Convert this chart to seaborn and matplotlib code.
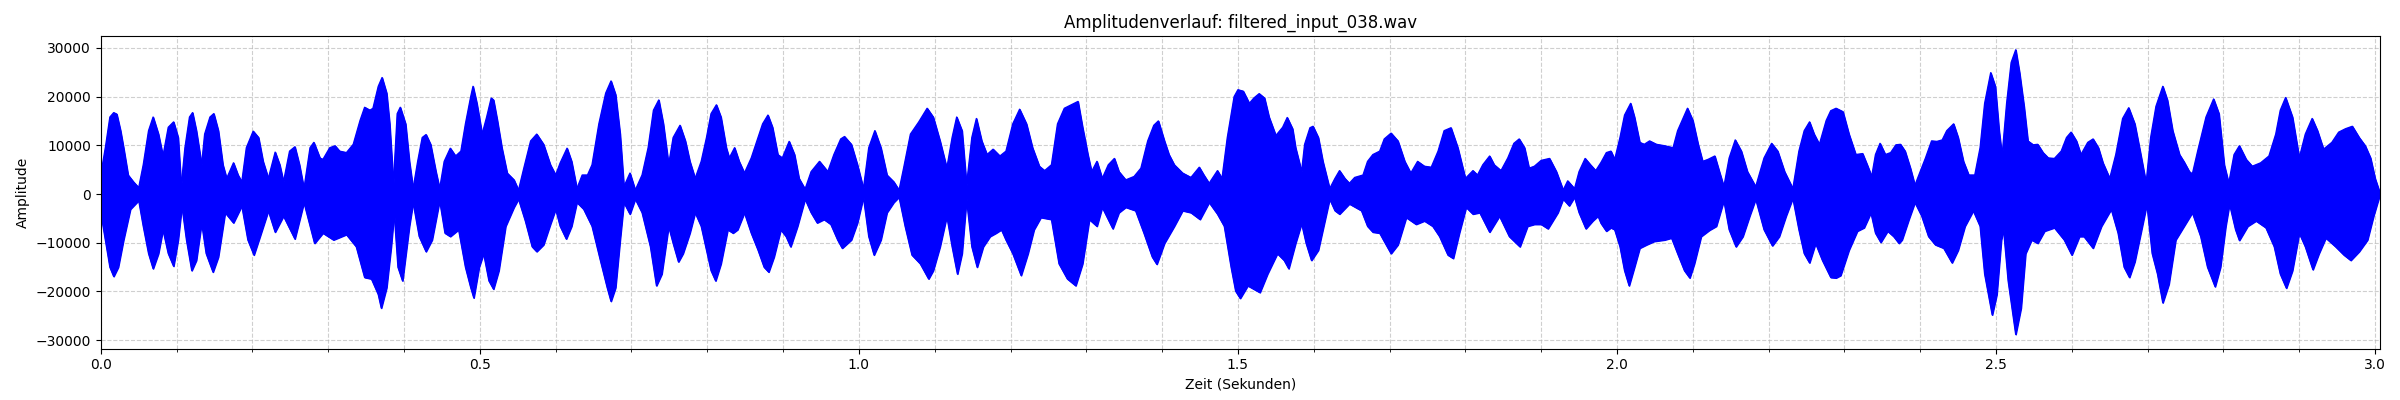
import numpy as np
import pandas as pd
import seaborn as sns
import matplotlib
matplotlib.use("Agg")
import matplotlib.pyplot as plt
from matplotlib.ticker import MultipleLocator

# Obere Huellkurve (Zeit in s, Amplitude)
zeit_oben = [
    0.000, 0.006, 0.012, 0.017, 0.021, 0.026, 0.030, 0.036, 0.043, 0.050,
    0.056, 0.063, 0.069, 0.076, 0.082, 0.089, 0.096, 0.102, 0.106, 0.111,
    0.117, 0.121, 0.126, 0.133, 0.137, 0.144, 0.149, 0.155, 0.161, 0.166,
    0.175, 0.181, 0.186, 0.192, 0.201, 0.208, 0.214, 0.221, 0.230, 0.236,
    0.241, 0.249, 0.256, 0.262, 0.268, 0.276, 0.281, 0.289, 0.293, 0.302,
    0.309, 0.315, 0.324, 0.333, 0.342, 0.348, 0.355, 0.359, 0.366, 0.371,
    0.377, 0.381, 0.386, 0.391, 0.395, 0.402, 0.407, 0.412, 0.418, 0.424,
    0.429, 0.435, 0.442, 0.447, 0.453, 0.461, 0.468, 0.475, 0.481, 0.488,
    0.491, 0.496, 0.503, 0.509, 0.515, 0.518, 0.523, 0.529, 0.536, 0.545,
    0.551, 0.558, 0.567, 0.575, 0.584, 0.593, 0.600, 0.606, 0.615, 0.621,
    0.628, 0.635, 0.642, 0.648, 0.657, 0.666, 0.673, 0.679, 0.685, 0.690,
    0.698, 0.705, 0.714, 0.722, 0.729, 0.736, 0.742, 0.749, 0.755, 0.764,
    0.771, 0.777, 0.784, 0.792, 0.799, 0.805, 0.812, 0.818, 0.825, 0.829,
    0.836, 0.842, 0.849, 0.858, 0.867, 0.873, 0.880, 0.886, 0.893, 0.899,
    0.908, 0.915, 0.921, 0.929, 0.937, 0.948, 0.959, 0.967, 0.976, 0.981,
    0.990, 0.998, 1.006, 1.013, 1.021, 1.029, 1.037, 1.046, 1.053, 1.059,
    1.068, 1.079, 1.090, 1.098, 1.107, 1.116, 1.123, 1.129, 1.136, 1.142,
    1.149, 1.155, 1.162, 1.169, 1.177, 1.186, 1.194, 1.203, 1.212, 1.221,
    1.229, 1.238, 1.245, 1.254, 1.262, 1.271, 1.280, 1.289, 1.295, 1.302,
    1.307, 1.314, 1.321, 1.329, 1.337, 1.343, 1.352, 1.363, 1.372, 1.381,
    1.389, 1.395, 1.403, 1.409, 1.416, 1.427, 1.438, 1.449, 1.455, 1.462,
    1.473, 1.479, 1.486, 1.495, 1.500, 1.507, 1.515, 1.521, 1.528, 1.535,
    1.541, 1.550, 1.559, 1.565, 1.572, 1.576, 1.584, 1.588, 1.595, 1.599,
    1.606, 1.612, 1.621, 1.628, 1.634, 1.641, 1.647, 1.654, 1.665, 1.671,
    1.678, 1.687, 1.693, 1.702, 1.711, 1.720, 1.728, 1.737, 1.746, 1.755,
    1.764, 1.772, 1.781, 1.790, 1.800, 1.810, 1.816, 1.823, 1.832, 1.838,
    1.847, 1.856, 1.864, 1.871, 1.878, 1.884, 1.891, 1.900, 1.911, 1.920,
    1.929, 1.935, 1.944, 1.950, 1.958, 1.965, 1.972, 1.979, 1.986, 1.992,
    1.997, 2.004, 2.010, 2.018, 2.023, 2.030, 2.036, 2.043, 2.052, 2.063,
    2.074, 2.080, 2.089, 2.093, 2.100, 2.107, 2.113, 2.120, 2.129, 2.135,
    2.141, 2.148, 2.156, 2.164, 2.172, 2.183, 2.194, 2.204, 2.212, 2.221,
    2.232, 2.240, 2.247, 2.254, 2.260, 2.267, 2.276, 2.282, 2.289, 2.298,
    2.306, 2.315, 2.324, 2.330, 2.336, 2.341, 2.347, 2.354, 2.361, 2.368,
    2.374, 2.380, 2.387, 2.393, 2.400, 2.407, 2.415, 2.422, 2.429, 2.435,
    2.444, 2.450, 2.457, 2.464, 2.472, 2.479, 2.485, 2.493, 2.499, 2.504,
    2.508, 2.514, 2.520, 2.526, 2.531, 2.537, 2.542, 2.549, 2.555, 2.562,
    2.569, 2.577, 2.586, 2.593, 2.599, 2.606, 2.612, 2.621, 2.628, 2.635,
    2.641, 2.650, 2.658, 2.667, 2.675, 2.683, 2.690, 2.698, 2.704, 2.711,
    2.720, 2.726, 2.733, 2.742, 2.748, 2.755, 2.759, 2.766, 2.777, 2.787,
    2.794, 2.801, 2.807, 2.814, 2.821, 2.830, 2.838, 2.849, 2.860, 2.869,
    2.875, 2.882, 2.891, 2.900, 2.908, 2.917, 2.924, 2.932, 2.943, 2.952,
    2.961, 2.970, 2.979, 2.987, 2.994, 3.000, 3.006,
]
amp_oben = [
    4000, 9500, 15800, 16700, 16400, 13000, 9500, 3900, 2500, 1300,
    6000, 13000, 15800, 12300, 7800, 13700, 14800, 11600, 1500, 9500,
    15800, 16700, 13000, 6000, 12300, 15800, 16500, 13000, 6000, 3200,
    6400, 3900, 2500, 9500, 12900, 11600, 6700, 3200, 8600, 6000,
    2500, 8800, 9700, 6000, 1100, 9500, 10600, 7400, 7100, 9500,
    9900, 8800, 8500, 10200, 15100, 17800, 17200, 17600, 22100, 23900,
    20700, 14400, 2000, 16500, 17800, 14400, 6700, 1100, 6700, 11600,
    12200, 10200, 4600, 1100, 6700, 9400, 7800, 8800, 14400, 20000,
    22100, 18600, 12300, 15800, 19700, 19300, 15100, 9500, 4300, 2900,
    800, 5300, 10900, 12300, 10200, 6000, 3900, 6400, 9400, 6700,
    1100, 3900, 3900, 6000, 14400, 20700, 23200, 20400, 12300, 1500,
    4300, 800, 3900, 9500, 17200, 19300, 14400, 6000, 11600, 14100,
    10900, 6700, 3200, 6700, 11600, 16500, 18300, 15800, 9500, 7400,
    9500, 6700, 4300, 7400, 11600, 14400, 16200, 13700, 8100, 7400,
    10800, 8100, 3200, 1000, 4600, 6700, 4600, 8100, 11300, 11800,
    10200, 6000, 1100, 9500, 13000, 9500, 3900, 2500, 800, 5300,
    12300, 14800, 17600, 15800, 10900, 5300, 11600, 15800, 13000, 1800,
    11600, 15500, 10900, 8100, 9200, 7800, 8800, 14400, 17400, 14400,
    9500, 5700, 4800, 6000, 14400, 17600, 18300, 19000, 13700, 8100,
    4600, 6700, 3200, 6000, 7300, 4600, 2900, 3600, 5300, 10900,
    14100, 15000, 10900, 8100, 6000, 4300, 3400, 5500, 3900, 2200,
    4800, 3200, 11600, 20000, 21400, 21100, 18600, 19700, 20600, 19700,
    15800, 12000, 13700, 15700, 13400, 9500, 4600, 10200, 13600, 13900,
    11600, 6700, 1100, 3200, 4800, 3200, 2200, 3400, 3900, 6700,
    8100, 8800, 11300, 12500, 10900, 6700, 4300, 6700, 5700, 5500,
    8800, 13000, 13600, 9500, 3200, 4800, 3900, 6000, 7800, 6000,
    4800, 7400, 10400, 11300, 9500, 5300, 5700, 6900, 7300, 4600,
    800, 2700, 1100, 4600, 7300, 6000, 4800, 6500, 8500, 8800,
    7100, 11600, 16200, 18600, 15800, 10600, 10200, 10900, 10200, 9900,
    9500, 13000, 16200, 17600, 15100, 10200, 6700, 7100, 7800, 4600,
    1500, 7400, 11100, 8800, 4600, 1500, 7400, 10400, 8800, 4600,
    1100, 8800, 13000, 14800, 12300, 10200, 15100, 17100, 17600, 16900,
    12300, 8100, 8300, 6000, 3600, 8100, 10400, 8100, 8500, 10100,
    10200, 8800, 5300, 1800, 4600, 7400, 10900, 10800, 11100, 13000,
    14400, 11600, 6700, 3900, 3900, 9500, 18600, 24900, 22100, 13000,
    7800, 18600, 27000, 29600, 24900, 17900, 10900, 10100, 10200, 8500,
    7400, 7300, 8800, 11600, 12700, 10900, 8100, 10600, 11300, 9500,
    6400, 3200, 8100, 15500, 17700, 14400, 8800, 2200, 11600, 18000,
    22100, 19300, 13000, 8100, 6600, 4600, 4100, 8800, 15800, 19500,
    16500, 6000, 2200, 8100, 9900, 7100, 5700, 6400, 7800, 12300,
    17200, 19800, 15800, 7400, 12300, 15500, 13000, 9200, 10600, 12700,
    13400, 13900, 11600, 9900, 7400, 3200, 400,
]

# Untere Huellkurve
zeit_unten = [
    0.000, 0.006, 0.012, 0.017, 0.023, 0.030, 0.039, 0.050, 0.056, 0.063,
    0.069, 0.076, 0.082, 0.089, 0.096, 0.102, 0.107, 0.113, 0.120, 0.126,
    0.133, 0.139, 0.148, 0.155, 0.164, 0.175, 0.186, 0.194, 0.202, 0.210,
    0.221, 0.230, 0.241, 0.256, 0.268, 0.282, 0.293, 0.307, 0.324, 0.337,
    0.348, 0.357, 0.366, 0.370, 0.377, 0.383, 0.387, 0.392, 0.398, 0.407,
    0.412, 0.420, 0.429, 0.437, 0.447, 0.454, 0.461, 0.472, 0.481, 0.488,
    0.492, 0.499, 0.505, 0.512, 0.518, 0.525, 0.534, 0.545, 0.551, 0.560,
    0.569, 0.575, 0.584, 0.593, 0.600, 0.606, 0.614, 0.621, 0.628, 0.637,
    0.648, 0.659, 0.668, 0.673, 0.679, 0.685, 0.690, 0.698, 0.705, 0.714,
    0.725, 0.733, 0.740, 0.749, 0.755, 0.762, 0.768, 0.777, 0.784, 0.792,
    0.799, 0.805, 0.811, 0.818, 0.827, 0.834, 0.840, 0.849, 0.858, 0.867,
    0.875, 0.881, 0.888, 0.897, 0.904, 0.910, 0.919, 0.929, 0.937, 0.945,
    0.954, 0.963, 0.972, 0.978, 0.990, 0.998, 1.006, 1.013, 1.020, 1.029,
    1.037, 1.046, 1.053, 1.061, 1.070, 1.081, 1.092, 1.098, 1.107, 1.116,
    1.123, 1.130, 1.136, 1.142, 1.149, 1.156, 1.164, 1.173, 1.181, 1.188,
    1.194, 1.203, 1.214, 1.223, 1.231, 1.240, 1.254, 1.264, 1.275, 1.286,
    1.295, 1.304, 1.314, 1.321, 1.335, 1.343, 1.352, 1.365, 1.376, 1.387,
    1.393, 1.403, 1.416, 1.427, 1.438, 1.450, 1.462, 1.473, 1.482, 1.491,
    1.497, 1.503, 1.513, 1.521, 1.529, 1.539, 1.552, 1.561, 1.567, 1.576,
    1.584, 1.590, 1.597, 1.606, 1.615, 1.621, 1.628, 1.634, 1.647, 1.663,
    1.671, 1.678, 1.687, 1.693, 1.702, 1.711, 1.722, 1.735, 1.746, 1.757,
    1.766, 1.777, 1.784, 1.792, 1.801, 1.810, 1.819, 1.832, 1.845, 1.858,
    1.872, 1.882, 1.891, 1.900, 1.909, 1.922, 1.929, 1.937, 1.944, 1.950,
    1.959, 1.968, 1.975, 1.979, 1.986, 1.992, 1.997, 2.004, 2.010, 2.016,
    2.023, 2.030, 2.039, 2.049, 2.063, 2.072, 2.080, 2.089, 2.096, 2.102,
    2.111, 2.122, 2.131, 2.141, 2.148, 2.157, 2.166, 2.175, 2.183, 2.194,
    2.205, 2.214, 2.223, 2.232, 2.240, 2.247, 2.254, 2.262, 2.271, 2.282,
    2.289, 2.295, 2.306, 2.317, 2.326, 2.335, 2.341, 2.348, 2.357, 2.365,
    2.372, 2.376, 2.385, 2.393, 2.402, 2.411, 2.420, 2.431, 2.442, 2.450,
    2.459, 2.470, 2.479, 2.485, 2.495, 2.501, 2.507, 2.510, 2.516, 2.526,
    2.533, 2.539, 2.547, 2.555, 2.564, 2.577, 2.590, 2.600, 2.610, 2.616,
    2.628, 2.639, 2.652, 2.661, 2.669, 2.676, 2.683, 2.691, 2.699, 2.706,
    2.713, 2.720, 2.728, 2.737, 2.748, 2.759, 2.770, 2.779, 2.789, 2.796,
    2.803, 2.808, 2.816, 2.821, 2.832, 2.843, 2.856, 2.867, 2.875, 2.883,
    2.891, 2.900, 2.908, 2.918, 2.926, 2.935, 2.948, 2.959, 2.968, 2.979,
    2.990, 2.998, 3.006,
]
amp_unten = [
    -3800, -9400, -15000, -16900, -15000, -9400, -3100, -1300, -6600, -12200,
    -15300, -12200, -7300, -12200, -14800, -9400, -2400, -9400, -15700, -13600,
    -5900, -12200, -16000, -12900, -3800, -5900, -2400, -9400, -12500, -8700,
    -3400, -7800, -4500, -9200, -1700, -10100, -8000, -9400, -8300, -10800,
    -17100, -17400, -20600, -23400, -19200, -10800, -3800, -15000, -17800, -6600,
    -1700, -8700, -11800, -9400, -1300, -8000, -8700, -7300, -15000, -19200,
    -21300, -15000, -12200, -17800, -19500, -15700, -6600, -2700, -1000, -5500,
    -10800, -11800, -10400, -6200, -3100, -6600, -9200, -6600, -1700, -3100,
    -6600, -13600, -19200, -22000, -19200, -9400, -1700, -4100, -1000, -3800,
    -10800, -18800, -16400, -6600, -10100, -13900, -12200, -8000, -3800, -6600,
    -11500, -15700, -17800, -14300, -7300, -8000, -7300, -3800, -8000, -11500,
    -15000, -16000, -12900, -7300, -8700, -10800, -6600, -1000, -3800, -5900,
    -5200, -6200, -9400, -11100, -9400, -5900, -600, -8700, -12500, -9400,
    -3800, -1700, -600, -6600, -12500, -14300, -17400, -15700, -10800, -4500,
    -10800, -16400, -12200, -1000, -10800, -15000, -10800, -8700, -8000, -7300,
    -9400, -12200, -16700, -12200, -7300, -4800, -5200, -14300, -17400, -18800,
    -14300, -5200, -6600, -2700, -7100, -3800, -2700, -3400, -8000, -12900,
    -14400, -10100, -6600, -3400, -3800, -5200, -1700, -4100, -6600, -15000,
    -19900, -21400, -18800, -19500, -20200, -16400, -12200, -13600, -15300, -10100,
    -6000, -10100, -13600, -11500, -5200, -1000, -3400, -4100, -2000, -3400,
    -6600, -7800, -8000, -9700, -12200, -10400, -4800, -6200, -5500, -6600,
    -8700, -12500, -13200, -8000, -2700, -4100, -3800, -7800, -4500, -8700,
    -10800, -6600, -6200, -6200, -7100, -3800, -1000, -2400, -600, -3800,
    -7100, -5500, -4500, -6000, -7600, -6900, -7300, -10800, -15700, -18800,
    -15000, -11100, -10400, -9700, -9400, -9000, -12200, -15700, -17200, -14300,
    -8700, -7400, -6600, -1300, -7300, -10800, -8700, -4500, -1000, -7300,
    -10600, -8700, -4500, -800, -7300, -12200, -14100, -10100, -13600, -17100,
    -17200, -16700, -11500, -7600, -6900, -3800, -8000, -9900, -7600, -8700,
    -10100, -9400, -5200, -1700, -4500, -8700, -10400, -11100, -14100, -11500,
    -6600, -3400, -6600, -16400, -24800, -20600, -9400, -7300, -17800, -28800,
    -23400, -12200, -9400, -10100, -7600, -6900, -9400, -12500, -8700, -8700,
    -11100, -6600, -3100, -8000, -15000, -17100, -13900, -8000, -2000, -12200,
    -16400, -22300, -18500, -9400, -6600, -3800, -8700, -15000, -19000, -15000,
    -6600, -2000, -7300, -9500, -6600, -5500, -6900, -10800, -16400, -19300,
    -15700, -8000, -10800, -15500, -12200, -9000, -10800, -12500, -13600, -11800,
    -9400, -4500, -300,
]

titel = "Amplitudenverlauf: filtered_input_038.wav"
x_label = "Zeit (Sekunden)"
y_label = "Amplitude"

df_oben = pd.DataFrame({"Zeit": zeit_oben, "Amplitude": amp_oben})
df_unten = pd.DataFrame({"Zeit": zeit_unten, "Amplitude": amp_unten})

fig, ax = plt.subplots(figsize=(24, 4), dpi=100)

# Signal als gefuellte Flaeche zwischen Huellkurve und Null (ueber dem Gitter)
ax.fill_between(df_oben["Zeit"], df_oben["Amplitude"], 0, facecolor="blue",
                edgecolor="blue", linewidth=1.0, zorder=2)
ax.fill_between(df_unten["Zeit"], df_unten["Amplitude"], 0, facecolor="blue",
                edgecolor="blue", linewidth=1.0, zorder=2)
sns.lineplot(data=df_oben, x="Zeit", y="Amplitude", color="blue", linewidth=1.0, ax=ax, zorder=2)
sns.lineplot(data=df_unten, x="Zeit", y="Amplitude", color="blue", linewidth=1.0, ax=ax, zorder=2)

ax.set_xlim(0, zeit_oben[-1])
ax.xaxis.set_major_locator(MultipleLocator(0.5))
ax.xaxis.set_minor_locator(MultipleLocator(0.1))
ax.set_axisbelow(True)
ax.grid(True, which="both", axis="x", linestyle="--", alpha=0.6)
ax.grid(True, which="major", axis="y", linestyle="--", alpha=0.6)

ax.set_title(titel)
ax.set_xlabel(x_label)
ax.set_ylabel(y_label)

plt.subplots_adjust(left=0.042, right=0.9915, top=0.911, bottom=0.1285)
plt.savefig("out.png")
